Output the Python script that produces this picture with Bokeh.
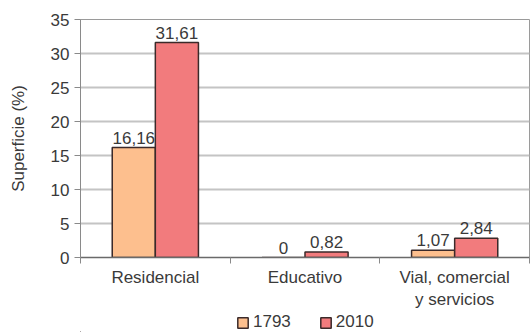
from bokeh.plotting import figure
from bokeh.layouts import column
from bokeh.models import ColumnDataSource, Range1d, FixedTicker, Legend, LegendItem
from bokeh.transform import dodge
from bokeh.embed import file_html
from bokeh.resources import INLINE

categories = ["Residencial", "Educativo", "Vial, comercial\ny servicios"]
series_names = ["1793", "2010"]
values_1793 = [16.16, 0, 1.07]
values_2010 = [31.61, 0.82, 2.84]
y_ticks = [0, 5, 10, 15, 20, 25, 30, 35]

def fmt(v):
    return str(v).replace(".", ",")

xc = [i + 0.5 for i in range(len(categories))]
src = ColumnDataSource(dict(
    xc=xc, cat=categories,
    v1=values_1793, v2=values_2010,
    l1=[fmt(v) for v in values_1793], l2=[fmt(v) for v in values_2010],
))

FONT = "Liberation Sans"
TXT = "#3a3a3a"
C1, C2, EDGE = "#FDBF8E", "#F27B7D", "#3b2a2a"

p = figure(width=530, height=312, output_backend="svg", toolbar_location=None,
           x_range=Range1d(0, len(categories)), y_range=Range1d(0, 35),
           min_border_left=80, min_border_right=1, min_border_top=19, min_border_bottom=55)
p.background_fill_color = "white"
p.border_fill_color = "white"
p.outline_line_color = "#9a9a9a"
p.outline_line_width = 1

bw = 0.288
p.vbar(x=dodge("xc", -bw / 2, range=p.x_range), top="v1", width=bw, source=src,
       fill_color=C1, line_color=EDGE, line_width=1.5)
p.vbar(x=dodge("xc", bw / 2, range=p.x_range), top="v2", width=bw, source=src,
       fill_color=C2, line_color=EDGE, line_width=1.5)

for col, off in (("1", -bw / 2), ("2", bw / 2)):
    p.text(x=dodge("xc", off, range=p.x_range), y="v" + col, text="l" + col, source=src,
           text_align="center", text_baseline="bottom", y_offset=-4,
           text_font_size="17px", text_color=TXT, text_font={"value": FONT})

# axes
p.xgrid.visible = False
p.ygrid.grid_line_color = "#c4c4c4"
p.ygrid.grid_line_width = 2
p.ygrid.ticker = FixedTicker(ticks=y_ticks)

p.yaxis.ticker = FixedTicker(ticks=y_ticks)
p.yaxis.minor_tick_line_color = None
p.yaxis.major_tick_in = 0
p.yaxis.major_tick_out = 6
p.yaxis.axis_line_color = "#8a8a8a"
p.yaxis.major_tick_line_color = "#8a8a8a"
p.yaxis.axis_label = "Superficie (%)"
p.yaxis.axis_label_standoff = 20
p.yaxis.axis_label_text_font_style = "normal"

p.xaxis.ticker = FixedTicker(ticks=xc, minor_ticks=list(range(len(categories) + 1)))
p.xaxis.major_label_overrides = {x: c for x, c in zip(xc, categories)}
p.xaxis.major_tick_in = 0
p.xaxis.major_tick_out = 0
p.xaxis.minor_tick_in = 0
p.xaxis.minor_tick_out = 6
p.xaxis.minor_tick_line_color = "#8a8a8a"
p.xaxis.axis_line_color = "#6a6a6a"
p.xaxis.axis_line_width = 1.5
p.xaxis.major_label_standoff = 4

for ax in (p.xaxis, p.yaxis):
    ax.major_label_text_font = FONT
    ax.major_label_text_font_size = "17px"
    ax.major_label_text_color = TXT
    ax.axis_label_text_font = FONT
    ax.axis_label_text_font_size = "17px"
    ax.axis_label_text_color = TXT

# legend strip below the chart (its renderers use the real data, kept out of view)
pl = figure(width=530, height=20, output_backend="svg", toolbar_location=None,
            x_range=Range1d(100, 101), y_range=Range1d(100, 101),
            min_border_left=0, min_border_right=0, min_border_top=0, min_border_bottom=0)
pl.axis.visible = False
pl.grid.visible = False
pl.outline_line_color = None
pl.border_fill_color = "white"
g1 = pl.vbar(x="xc", top="v1", width=bw, source=src, fill_color=C1, line_color=EDGE, line_width=1.5)
g2 = pl.vbar(x="xc", top="v2", width=bw, source=src, fill_color=C2, line_color=EDGE, line_width=1.5)
legend = Legend(items=[LegendItem(label=series_names[0], renderers=[g1], index=0),
                       LegendItem(label=series_names[1], renderers=[g2], index=0)],
                orientation="horizontal", location=(156, 0),
                glyph_width=13, glyph_height=13, label_standoff=4, spacing=28,
                padding=0, margin=0, border_line_color=None, background_fill_alpha=0,
                label_text_font=FONT, label_text_font_size="17px", label_text_color=TXT,
                label_height=16)
pl.add_layout(legend, "center")

layout = column(p, pl, spacing=0)
open("out.html", "w").write(file_html(layout, INLINE))
